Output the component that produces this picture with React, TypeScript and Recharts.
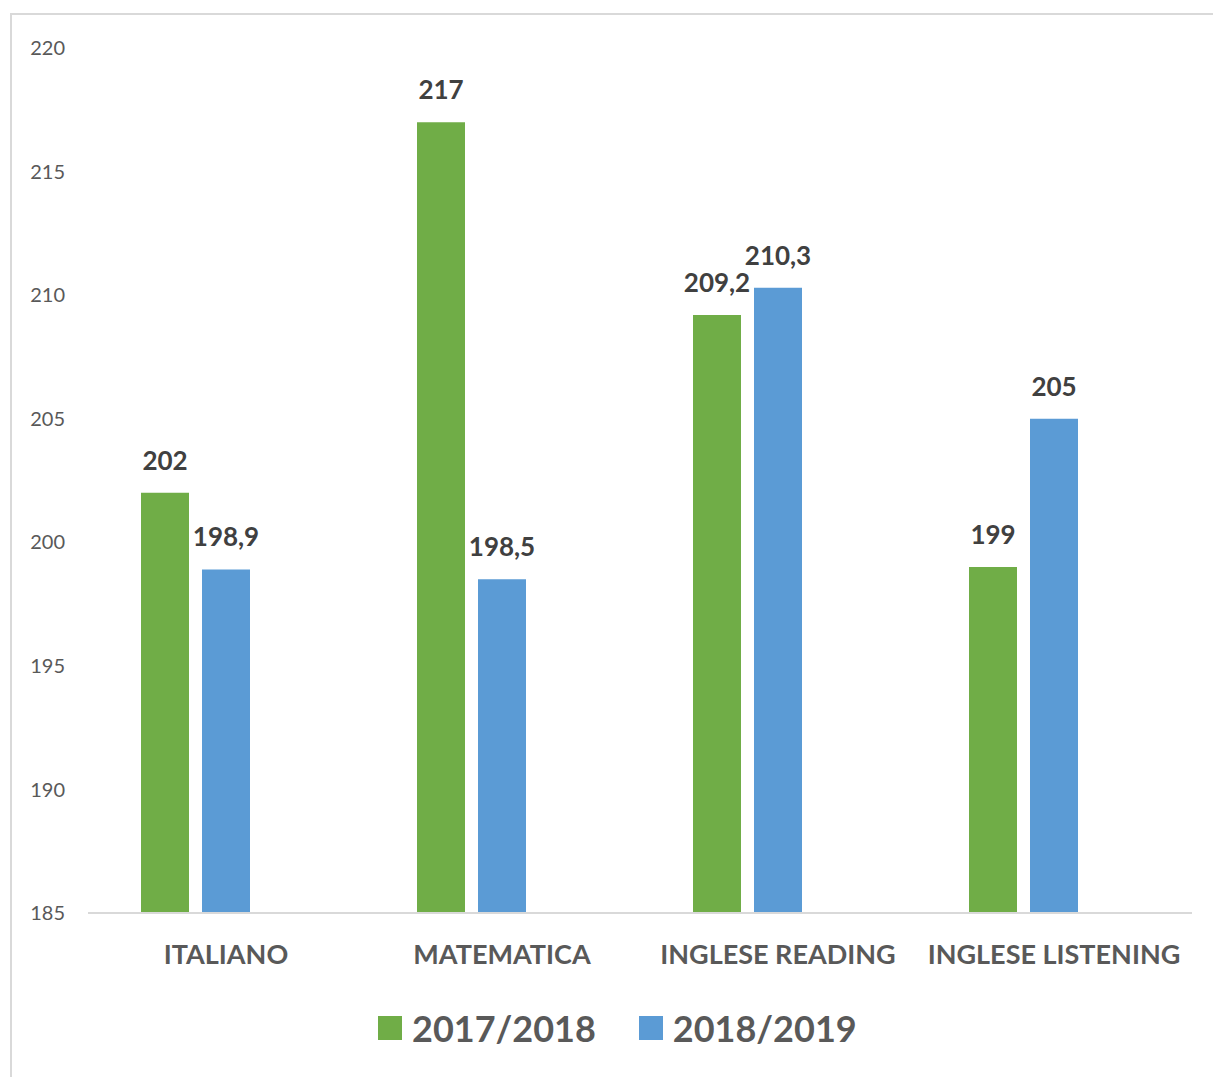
import { BarChart, Bar, XAxis, YAxis, Legend, LabelList } from "recharts";

const categories = ["ITALIANO", "MATEMATICA", "INGLESE READING", "INGLESE LISTENING"];
const values2017 = [202, 217, 209.2, 199];
const values2018 = [198.9, 198.5, 210.3, 205];
// third, empty series in the original chart (keeps the pairs shifted left)
const valuesEmpty = [null, null, null, null];
const yTicks = [185, 190, 195, 200, 205, 210, 215, 220];

const series = [
  { key: "s2017", name: "2017/2018", color: "#70AD47" },
  { key: "s2018", name: "2018/2019", color: "#5B9BD5" },
];

const data = categories.map((name, i) => ({
  name,
  s2017: values2017[i],
  s2018: values2018[i],
  empty: valuesEmpty[i],
}));

const FONT = "Lato, 'Open Sans', sans-serif";

const fmt = (v: any) => (v == null ? "" : String(v).replace(".", ","));

function LegendContent() {
  return (
    <div style={{ height: 70, display: "flex", alignItems: "center", paddingLeft: 378, fontFamily: FONT }}>
      {series.map((s, i) => (
        <div key={s.key} style={{ display: "flex", alignItems: "center", marginRight: i === 0 ? 43 : 0 }}>
          <div style={{ width: 24, height: 24, background: s.color, marginRight: 10 }} />
          <span style={{ fontSize: 36, fontWeight: 700, color: "#595959", lineHeight: 1 }}>{s.name}</span>
        </div>
      ))}
    </div>
  );
}

export default function App() {
  return (
    <div style={{ position: "absolute", left: 0, top: 0, width: 1213, height: 1077, background: "#fff", overflow: "hidden" }}>
      <div
        style={{
          position: "absolute",
          left: 10,
          top: 13,
          width: 1300,
          height: 1200,
          border: "2px solid #D9D9D9",
          boxSizing: "border-box",
        }}
      />
      <div style={{ position: "absolute", left: 0, top: 0 }}>
        <BarChart
          width={1213}
          height={1077}
          data={data}
          margin={{ top: 48, right: 21, left: 0, bottom: 0 }}
          barGap={13}
          barSize={48}
        >
          <XAxis
            dataKey="name"
            height={80}
            axisLine={{ stroke: "#D9D9D9", strokeWidth: 2 }}
            tickLine={false}
            tickSize={0}
            tickMargin={32}
            tick={{ fill: "#595959", fontSize: 27, fontWeight: 700, fontFamily: FONT }}
            interval={0}
          />
          <YAxis
            width={88}
            domain={[185, 220]}
            ticks={yTicks}
            axisLine={false}
            tickLine={false}
            tickSize={0}
            tickMargin={23}
            tick={{ fill: "#595959", fontSize: 20, fontFamily: FONT }}
          />
          <Legend verticalAlign="bottom" wrapperStyle={{ height: 84 }} content={<LegendContent />} />
          {series.map((s) => (
            <Bar key={s.key} dataKey={s.key} name={s.name} fill={s.color} isAnimationActive={false}>
              <LabelList
                dataKey={s.key}
                position="top"
                offset={23}
                formatter={fmt}
                style={{ fill: "#404040", fontSize: 26, fontWeight: 700, fontFamily: FONT }}
              />
            </Bar>
          ))}
          <Bar dataKey="empty" fill="transparent" legendType="none" isAnimationActive={false} />
        </BarChart>
      </div>
    </div>
  );
}
